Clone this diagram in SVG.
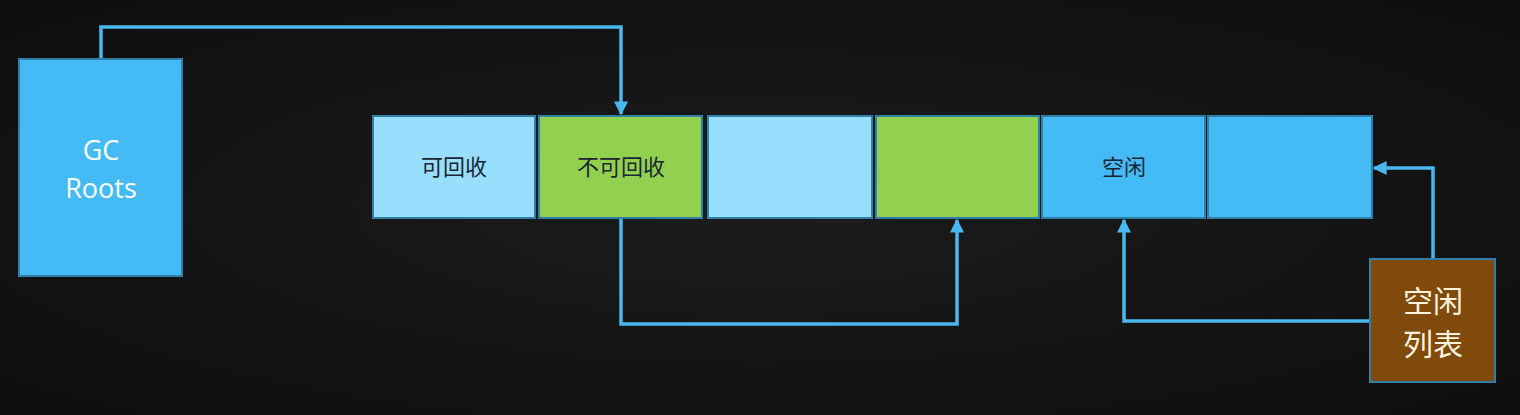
<svg xmlns="http://www.w3.org/2000/svg" width="1520" height="415" viewBox="0 0 1520 415">
<defs>
<radialGradient id="bg" cx="50%" cy="50%" r="70%">
<stop offset="0" stop-color="#1c1c1c"/>
<stop offset="1" stop-color="#0e0e0e"/>
</radialGradient>
<marker id="ah" viewBox="0 0 10 10" refX="9" refY="5" markerWidth="4" markerHeight="4" orient="auto" markerUnits="strokeWidth">
<path d="M0,0 L10,5 L0,10 z" fill="#4ab8ee"/>
</marker>
<style>
.cell{stroke:#2f7fa8;stroke-width:2}
.lb{fill:#97dffd}
.gr{fill:#92d050}
.bl{fill:#45bbf5}
.con{fill:none;stroke:#4ab8ee;stroke-width:3.5;marker-end:url(#ah)}
.t{font-family:"Noto Sans CJK SC",sans-serif;font-size:22px;fill:#1b2633;text-anchor:middle}
.w{font-family:"Open Sans","Noto Sans",sans-serif;font-size:27px;fill:#ffffff;text-anchor:middle}
.wc{font-family:"Noto Sans CJK SC",sans-serif;font-size:30px;fill:#fdf3dc;text-anchor:middle}
</style>
</defs>
<rect width="1520" height="415" fill="url(#bg)"/>
<g id="connectors">
<path class="con" d="M101,59 V27 H621 V114"/>
<path class="con" d="M621,218 V324 H957 V220"/>
<path class="con" d="M1433,259 V168 H1374"/>
<path class="con" d="M1370,321 H1124 V220"/>
</g>
<g id="gcroots">
<rect class="cell bl" x="19" y="59" width="163" height="217"/>
<text class="w" x="101" y="160">GC</text>
<text class="w" x="101" y="198">Roots</text>
</g>
<g id="cell1"><rect class="cell lb" x="373" y="116" width="162" height="102"/><text class="t" x="454" y="175">可回收</text></g>
<g id="cell2"><rect class="cell gr" x="539" y="116" width="163" height="102"/><text class="t" x="621" y="175">不可回收</text></g>
<g id="cell3"><rect class="cell lb" x="708" y="116" width="164" height="102"/></g>
<g id="cell4"><rect class="cell gr" x="876" y="116" width="163" height="102"/></g>
<g id="cell5"><rect class="cell bl" x="1042" y="116" width="163" height="102"/><text class="t" x="1124" y="175">空闲</text></g>
<g id="cell6"><rect class="cell bl" x="1208" y="116" width="164" height="102"/></g>
<g id="freelist">
<rect x="1370" y="259" width="125" height="123" fill="#7f4a0b" stroke="#2f7fa8" stroke-width="2"/>
<text class="wc" x="1433" y="312">空闲</text>
<text class="wc" x="1433" y="355">列表</text>
</g>
</svg>
